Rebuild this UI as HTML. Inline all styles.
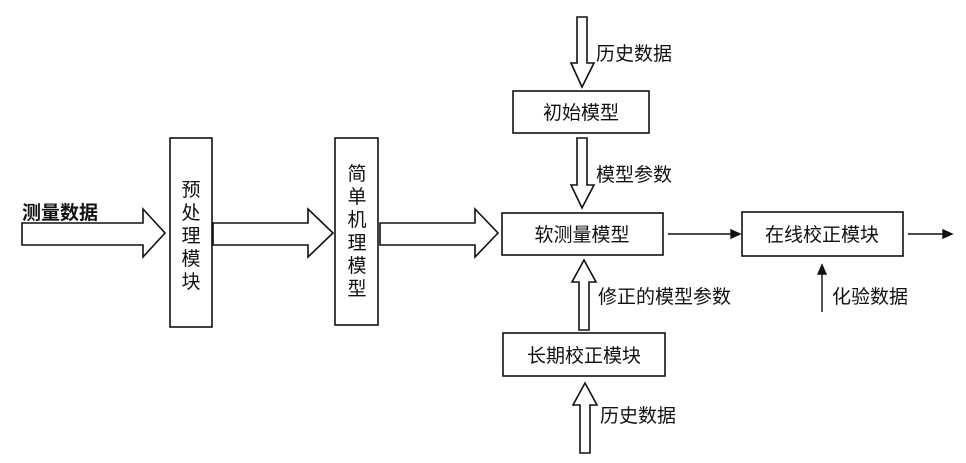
<!DOCTYPE html>
<html><head><meta charset="utf-8"><style>
body{margin:0;background:#fff;}
svg{display:block}
text{font-family:"Liberation Sans","Noto Sans CJK SC",sans-serif;fill:#111;font-size:19px}
</style></head><body>
<svg width="966" height="463" viewBox="0 0 966 463" xmlns="http://www.w3.org/2000/svg">
<g fill="#fff" stroke="#111" stroke-width="1.6">
<!-- horizontal fat arrows -->
<polygon points="22,223 143,223 143,209 165,233 143,257 143,245 22,245"/>
<polygon points="213,223 308,223 308,209 333,233 308,257 308,245 213,245"/>
<polygon points="380,223 475,223 475,209 498,233 475,257 475,245 380,245"/>
<!-- vertical boxes -->
<rect x="170" y="138" width="42" height="189"/>
<rect x="335" y="138" width="43" height="187"/>
<!-- right boxes -->
<rect x="513" y="91" width="136" height="42"/>
<rect x="502" y="213" width="161" height="42"/>
<rect x="742" y="212" width="161" height="44"/>
<rect x="503" y="333" width="162" height="43"/>
<!-- down arrows -->
<polygon points="577,17 587,17 587,63 594,63 582,87 571,63 577,63"/>
<polygon points="577,138 587,138 587,185 594,185 582,208 571,185 577,185"/>
<!-- up arrows -->
<polygon points="579,330 589,330 589,282 596,282 584,260 572,282 579,282"/>
<polygon points="580,453 590,453 590,405 597,405 585,383 573,405 580,405"/>
</g>
<g stroke="#111" stroke-width="1.4" fill="#111">
<line x1="668" y1="234" x2="732" y2="234"/><polygon points="740,234 731,230 731,238"/>
<line x1="908" y1="234" x2="944" y2="234"/><polygon points="952,234 943,230 943,238"/>
<line x1="822" y1="312" x2="822" y2="273"/><polygon points="822,265 818,274 826,274"/>
</g>
<text x="22" y="219" style="font-weight:bold">测量数据</text>
<g text-anchor="middle">
<text x="191" y="196">预</text><text x="191" y="219">处</text><text x="191" y="242">理</text><text x="191" y="265">模</text><text x="191" y="288">块</text>
<text x="357" y="180">简</text><text x="357" y="203">单</text><text x="357" y="226">机</text><text x="357" y="249">理</text><text x="357" y="272">模</text><text x="357" y="295">型</text>
<text x="581" y="119">初始模型</text>
<text x="582" y="241">软测量模型</text>
<text x="822" y="241">在线校正模块</text>
<text x="584" y="362">长期校正模块</text>
</g>
<text x="596" y="60">历史数据</text>
<text x="596" y="181">模型参数</text>
<text x="598" y="303">修正的模型参数</text>
<text x="832" y="303">化验数据</text>
<text x="600" y="422">历史数据</text>
</svg>
</body></html>
